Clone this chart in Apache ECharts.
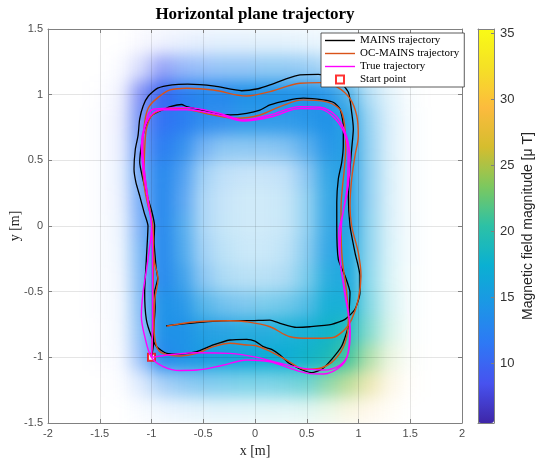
<!DOCTYPE html>
<html>
<head>
<meta charset="utf-8">
<script src="https://cdn.jsdelivr.net/npm/echarts@6/dist/echarts.min.js"></script>
<style>
  html, body { margin: 0; padding: 0; background: #fff; }
  #wrap { position: relative; width: 543px; height: 466px; }
  #bgClip { position: absolute; left: 0; top: 0; width: 543px; height: 466px; clip-path: inset(29px 81px 43px 48px); }
  #bg { position: absolute; left: 0; top: 0; width: 543px; height: 466px; filter: blur(8px); }
  #main { position: absolute; left: 0; top: 0; width: 543px; height: 466px; }
</style>
</head>
<body>
<div id="wrap">
  <div id="bgClip"><div id="bg"></div></div>
  <div id="main"></div>
</div>
<script>
// field map cells (0.2 m), columns left -> right, rows top (y=1.4) -> bottom (y=-1.4)
const fieldX = [-1.9, -1.7, -1.5, -1.3, -1.1, -0.9, -0.7, -0.5, -0.3, -0.1, 0.1, 0.3, 0.5, 0.7, 0.9, 1.1, 1.3, 1.5, 1.7, 1.9];
const fieldY = [1.4, 1.2, 1.0, 0.8, 0.6, 0.4, 0.2, 0.0, -0.2, -0.4, -0.6, -0.8, -1.0, -1.2, -1.4];

// magnitude [uT]
const fieldMag = [
  [ 9, 9, 9, 9, 9,10,11,12,13,13,14,14,14,15,15,15,16,16,16,16],
  [ 9, 9, 9, 9, 9, 9,11,12,13,13,14,14,14,14,15,15,15,16,16,16],
  [ 9, 9, 9, 9, 9,10,12,13,13,14,14,14,14,14,15,15,15,16,16,16],
  [ 9, 9, 9, 9,10,11,12,13,13,14,14,14,14,14,15,15,15,16,16,16],
  [10,10,10,10,11,12,13,13,14,14,14,14,14,14,15,15,15,16,16,16],
  [11,11,11,11,12,13,13,14,14,14,14,14,14,15,15,15,16,16,16,16],
  [11,11,11,11,12,13,13,14,14,15,15,15,15,15,15,15,16,16,16,16],
  [12,12,12,12,12,13,14,14,15,15,15,15,15,15,15,16,16,17,17,17],
  [12,12,12,12,13,13,14,14,15,15,15,15,15,15,16,16,17,17,17,17],
  [12,12,12,12,13,13,14,14,15,15,15,15,16,16,16,17,18,18,18,18],
  [12,12,12,12,13,14,14,15,15,15,16,16,16,17,17,18,19,19,19,19],
  [12,12,12,12,13,14,14,15,15,16,16,17,17,18,19,20,21,21,21,21],
  [11,11,11,11,12,13,14,15,16,16,17,17,18,19,21,23,24,24,24,24],
  [11,11,11,11,12,13,14,15,16,17,17,18,19,22,24,26,28,28,28,28],
  [11,11,11,11,12,13,14,15,16,17,18,19,20,23,26,29,30,30,30,30]
];

// map confidence (drawn as opacity)
const fieldAlpha = [
  [0,0,0,   0,   0.04,0.08,0.10,0.12,0.12,0.12,0.12,0.12,0.10,0.08,0.05,0.02,0,   0,   0,0],
  [0,0,0,   0.03,0.22,0.55,0.50,0.48,0.48,0.48,0.48,0.48,0.45,0.35,0.18,0.06,0.02,0,   0,0],
  [0,0,0.01,0.08,0.65,1.00,1.00,1.00,1.00,1.00,1.00,1.00,1.00,0.95,0.75,0.32,0.12,0.02,0,0],
  [0,0,0.02,0.10,0.70,1.00,1.00,0.95,0.92,0.92,0.92,0.92,0.95,1.00,0.92,0.42,0.15,0.03,0,0],
  [0,0,0.02,0.10,0.70,1.00,0.92,0.62,0.50,0.50,0.50,0.55,0.72,0.95,0.95,0.45,0.15,0.03,0,0],
  [0,0,0.02,0.10,0.68,1.00,0.80,0.40,0.28,0.24,0.24,0.28,0.50,0.88,0.95,0.45,0.15,0.03,0,0],
  [0,0,0.02,0.09,0.64,1.00,0.75,0.35,0.24,0.20,0.20,0.24,0.45,0.85,0.95,0.45,0.15,0.03,0,0],
  [0,0,0.02,0.08,0.60,1.00,0.75,0.35,0.24,0.20,0.20,0.24,0.45,0.85,0.95,0.45,0.15,0.03,0,0],
  [0,0,0.02,0.07,0.58,1.00,0.78,0.40,0.28,0.22,0.22,0.28,0.50,0.88,0.95,0.45,0.15,0.03,0,0],
  [0,0,0.02,0.06,0.56,1.00,0.85,0.50,0.35,0.30,0.30,0.35,0.55,0.90,0.95,0.45,0.15,0.03,0,0],
  [0,0,0.02,0.05,0.54,1.00,0.95,0.72,0.60,0.55,0.55,0.60,0.72,0.95,0.95,0.50,0.18,0.03,0,0],
  [0,0,0.01,0.05,0.50,1.00,1.00,0.95,0.92,0.90,0.90,0.92,0.95,1.00,0.95,0.55,0.20,0.03,0,0],
  [0,0,0.01,0.04,0.45,1.00,1.00,1.00,1.00,1.00,1.00,1.00,1.00,1.00,0.95,0.55,0.18,0.03,0,0],
  [0,0,0,   0.02,0.16,0.38,0.48,0.52,0.52,0.52,0.52,0.56,0.62,0.65,0.58,0.36,0.12,0.02,0,0],
  [0,0,0,   0,   0.03,0.08,0.10,0.12,0.12,0.12,0.12,0.12,0.14,0.15,0.14,0.10,0.04,0,   0,0]
];

// MAINS estimate (two laps)
const mainsX = [-1.00,-0.98,-0.976,-0.965,-0.969,-0.94,-0.955,-0.963,-0.975,-0.97,-1.00,-1.05,-1.09,-1.114,-1.098,-1.066,-1.002,-0.873,-0.82,-0.71,-0.66,-0.53,-0.403,-0.242,-0.08,0.048,0.145,0.306,0.467,0.66,0.76,0.821,0.853,0.853,0.838,0.805,0.79,0.79,0.805,0.87,0.918,0.91,0.902,0.838,0.741,0.645,0.548,0.483,0.40,0.322,0.242,0.161,0.08,0.0,-0.08,-0.242,-0.403,-0.563,-0.725,-0.853,-0.95,-1.002,-1.05,-1.066,-1.05,-1.034,
  -1.07,-1.114,-1.15,-1.169,-1.156,-1.13,-1.114,-1.08,-1.03,-0.94,-0.80,-0.65,-0.39,-0.13,0.03,0.145,0.30,0.435,0.612,0.79,0.902,0.934,0.95,0.934,0.918,0.902,0.918,0.966,1.014,1.014,0.966,0.87,0.741,0.53,0.403,0.242,0.145,-0.08,-0.242,-0.563,-0.86];
const mainsY = [-1.00,-0.90,-0.76,-0.62,-0.50,-0.40,-0.32,-0.25,-0.12,0.00,0.12,0.25,0.38,0.485,0.612,0.739,0.84,0.891,0.909,0.925,0.909,0.885,0.858,0.846,0.858,0.883,0.922,0.955,0.973,0.96,0.94,0.891,0.764,0.612,0.485,0.358,0.18,0.0,-0.254,-0.381,-0.508,-0.64,-0.762,-0.914,-1.015,-1.091,-1.117,-1.104,-1.075,-1.041,-0.982,-0.939,-0.919,-0.876,-0.863,-0.868,-0.906,-0.957,-0.975,-0.97,-0.919,-0.838,-0.711,-0.508,-0.254,0.0,
  0.10,0.23,0.33,0.434,0.586,0.688,0.815,0.916,0.99,1.05,1.075,1.08,1.065,1.03,1.045,1.074,1.12,1.15,1.155,1.12,1.018,0.866,0.739,0.586,0.434,0.231,0.0,-0.203,-0.381,-0.508,-0.634,-0.711,-0.749,-0.767,-0.772,-0.741,-0.716,-0.721,-0.721,-0.736,-0.76];

// OC-MAINS estimate
const ocX = [-1.00,-0.99,-0.985,-0.98,-0.99,-1.02,-1.05,-1.07,-1.065,-1.046,-0.99,-0.82,-0.66,-0.403,-0.177,0.048,0.242,0.467,0.693,0.79,0.838,0.87,0.876,0.863,0.843,0.831,0.831,0.843,0.886,0.902,0.87,0.773,0.645,0.483,0.322,0.161,0.0,-0.08,-0.242,-0.403,-0.563,-0.725,-0.886,-0.95,-0.976,-0.969,-0.937,-0.976,-0.986,
  -1.034,-1.066,-1.082,-1.082,-1.066,-1.03,-0.95,-0.82,-0.66,-0.403,-0.08,0.145,0.435,0.628,0.79,0.918,0.983,0.998,0.966,0.934,0.918,0.934,0.998,1.024,0.998,0.934,0.87,0.741,0.531,0.338,0.145,-0.08,-0.242,-0.563,-0.853];
const ocY = [-1.00,-0.80,-0.50,-0.25,0.00,0.15,0.30,0.45,0.60,0.75,0.845,0.896,0.889,0.845,0.82,0.845,0.909,0.96,0.945,0.91,0.866,0.739,0.586,0.434,0.282,0.13,0.0,-0.254,-0.508,-0.711,-0.889,-1.015,-1.079,-1.092,-1.028,-0.96,-0.91,-0.906,-0.893,-0.919,-0.97,-0.99,-0.97,-0.919,-0.762,-0.558,-0.406,-0.254,0.0,
  0.155,0.282,0.434,0.637,0.79,0.90,0.97,1.036,1.049,1.036,0.99,1.023,1.087,1.092,1.06,0.97,0.84,0.688,0.535,0.358,0.155,0.0,-0.203,-0.381,-0.558,-0.711,-0.787,-0.851,-0.855,-0.843,-0.767,-0.729,-0.721,-0.729,-0.762];

// true trajectory
const trueX = [-1.00,-0.99,-0.99,-0.99,-1.00,-1.03,-1.07,-1.085,-1.06,-0.99,-0.88,-0.66,-0.34,-0.11,0.15,0.44,0.63,0.77,0.87,0.90,0.89,0.85,0.81,0.82,0.87,0.915,0.90,0.84,0.66,0.50,0.34,0.145,-0.08,-0.31,-0.56,-0.725,-0.886,-1.00,
  -1.066,-1.098,-1.082,-1.034,-1.00,-1.034,-1.082,-1.098,-1.066,-0.983,-0.66,-0.338,-0.113,0.145,0.435,0.628,0.79,0.886,0.918,0.90,0.84,0.82,0.86,0.92,0.90,0.82,0.66,0.47,0.24,0.02,-0.24,-0.56,-1.00];
const trueY = [-1.00,-0.76,-0.50,-0.25,0.00,0.18,0.43,0.61,0.76,0.855,0.885,0.885,0.845,0.80,0.83,0.895,0.89,0.82,0.69,0.52,0.30,0.10,-0.05,-0.254,-0.508,-0.762,-0.965,-1.06,-1.127,-1.12,-1.084,-1.034,-1.02,-1.06,-1.097,-1.10,-1.07,-1.00,
  -0.838,-0.685,-0.508,-0.254,0.00,0.18,0.434,0.612,0.764,0.889,0.901,0.858,0.807,0.845,0.909,0.904,0.832,0.68,0.503,0.30,0.05,-0.20,-0.48,-0.80,-0.97,-1.06,-1.097,-1.084,-1.045,-1.00,-0.97,-0.965,-1.00];

const startX = [-1.0];
const startY = [-1.0];

const cbarTicks = [10, 15, 20, 25, 30, 35];
const cbarMin = 5.5;
const cbarMax = 35.3;

const parula = ['#3E26A8', '#4752EF', '#2E78F5', '#1C96E6', '#0AB0D2', '#2CC1A6',
  '#7CC85F', '#D5BD2E', '#FCBB3D', '#F5E026', '#F9FB15'];

const zip = (xs, ys) => xs.map((x, i) => [x, ys[i]]);

const AXIS_GRAY = '#808080';
const PLOT = { left: 48, right: 81, top: 29, bottom: 43, outerBoundsMode: 'none' };
const LINE_ICON = 'path://M0,0H30V1.4H0Z';
const SQUARE_ICON = 'path://M0,0H8V8H0Z';

// ---- background field map (blurred layer) ----
const cells = [];
fieldMag.forEach((row, r) => {
  row.forEach((v, c) => {
    cells.push([c, fieldY.length - 1 - r, v, fieldAlpha[r][c]]);
  });
});

const bg = echarts.init(document.getElementById('bg'), null, { renderer: 'canvas' });
bg.setOption({
  animation: false,
  grid: { ...PLOT, show: false },
  xAxis: { type: 'category', data: fieldX, show: false },
  yAxis: { type: 'category', data: fieldY.slice().reverse(), show: false },
  visualMap: [
    { type: 'continuous', show: false, seriesIndex: 0, dimension: 2, min: cbarMin, max: cbarMax, inRange: { color: parula } },
    { type: 'continuous', show: false, seriesIndex: 0, dimension: 3, min: 0, max: 1, inRange: { opacity: [0, 1] } },
  ],
  series: [{ type: 'heatmap', data: cells, progressive: 0, emphasis: { disabled: true } }],
});

// ---- main chart ----
const chart = echarts.init(document.getElementById('main'), null, { renderer: 'canvas' });

const tickLabel = { fontFamily: 'Liberation Sans', fontSize: 11, color: '#4d4d4d' };
const nameStyle = { fontFamily: 'Liberation Serif', fontSize: 14, color: '#262626' };

chart.setOption({
  animation: false,
  graphic: [{
    type: 'text', x: 255, y: 15,
    style: { text: 'Horizontal plane trajectory', font: 'bold 17px "Liberation Serif"', fill: '#000', align: 'center', verticalAlign: 'middle' },
  }],
  grid: [
    { ...PLOT, show: false },
    { left: 478, width: 16, top: 29, height: 394, show: false, outerBoundsMode: 'none' },
  ],
  legend: {
    orient: 'vertical', left: 321, top: 33,
    backgroundColor: '#fff', borderColor: '#333', borderWidth: 0.8,
    padding: [2, 5, 2, 4],
    itemWidth: 30, itemHeight: 8, itemGap: 2,
    selectedMode: false,
    textStyle: { fontFamily: 'Liberation Serif', fontSize: 11, lineHeight: 10, color: '#000' },
    data: [
      { name: 'MAINS trajectory', icon: LINE_ICON },
      { name: 'OC-MAINS trajectory', icon: LINE_ICON },
      { name: 'True trajectory', icon: LINE_ICON },
      { name: 'Start point', icon: SQUARE_ICON },
    ],
  },
  visualMap: {
    type: 'continuous', seriesIndex: [], min: cbarMin, max: cbarMax,
    left: 473, top: 24, padding: 5, itemWidth: 16, itemHeight: 394,
    calculable: false, hoverLink: false, z: 1,
    inRange: { color: parula },
  },
  xAxis: [
    {
      gridIndex: 0, type: 'value', min: -2, max: 2, interval: 0.5,
      name: 'x [m]', nameLocation: 'middle', nameGap: 21, nameMoveOverlap: false, nameTextStyle: nameStyle,
      axisLine: { onZero: false, lineStyle: { color: AXIS_GRAY } },
      axisTick: { inside: true, length: 4, lineStyle: { color: AXIS_GRAY } },
      axisLabel: { ...tickLabel, margin: 5 },
      splitLine: { show: true, lineStyle: { color: 'rgba(0,0,0,0.1)' } },
    },
    {
      gridIndex: 0, type: 'value', position: 'top', min: -2, max: 2, interval: 0.5,
      axisLine: { onZero: false, lineStyle: { color: AXIS_GRAY } },
      axisTick: { inside: true, length: 4, lineStyle: { color: AXIS_GRAY } },
      axisLabel: { show: false }, splitLine: { show: false },
    },
    {
      gridIndex: 1, type: 'value', min: 0, max: 1, z: 10,
      axisLine: { onZero: false, lineStyle: { color: AXIS_GRAY } },
      axisTick: { show: false }, axisLabel: { show: false }, splitLine: { show: false },
    },
    {
      gridIndex: 1, type: 'value', position: 'top', min: 0, max: 1, z: 10,
      axisLine: { onZero: false, lineStyle: { color: AXIS_GRAY } },
      axisTick: { show: false }, axisLabel: { show: false }, splitLine: { show: false },
    },
  ],
  yAxis: [
    {
      gridIndex: 0, type: 'value', min: -1.5, max: 1.5, interval: 0.5,
      name: 'y [m]', nameLocation: 'middle', nameGap: 26, nameMoveOverlap: false, nameTextStyle: nameStyle,
      axisLine: { show: true, onZero: false, lineStyle: { color: AXIS_GRAY } },
      axisTick: { show: true, inside: true, length: 4, lineStyle: { color: AXIS_GRAY } },
      axisLabel: { ...tickLabel, margin: 5 },
      splitLine: { show: true, lineStyle: { color: 'rgba(0,0,0,0.1)' } },
    },
    {
      gridIndex: 0, type: 'value', position: 'right', min: -1.5, max: 1.5, interval: 0.5,
      axisLine: { show: true, onZero: false, lineStyle: { color: AXIS_GRAY } },
      axisTick: { show: true, inside: true, length: 4, lineStyle: { color: AXIS_GRAY } },
      axisLabel: { show: false }, splitLine: { show: false },
    },
    {
      gridIndex: 1, type: 'value', position: 'right', min: cbarMin, max: cbarMax, z: 10,
      name: 'Magnetic field magnitude [μ T]', nameLocation: 'middle', nameRotate: 90, nameGap: 27,
      nameTextStyle: { fontFamily: 'Liberation Sans', fontSize: 14, color: '#262626' },
      axisLine: { show: true, onZero: false, lineStyle: { color: AXIS_GRAY } },
      axisTick: { show: true, inside: true, length: 3, customValues: cbarTicks, lineStyle: { color: AXIS_GRAY } },
      axisLabel: { fontFamily: 'Liberation Sans', fontSize: 13, color: '#333', margin: 6, customValues: cbarTicks },
      splitLine: { show: false },
    },
    {
      gridIndex: 1, type: 'value', position: 'left', min: cbarMin, max: cbarMax, z: 10,
      axisLine: { show: true, onZero: false, lineStyle: { color: AXIS_GRAY } },
      axisTick: { show: false }, axisLabel: { show: false }, splitLine: { show: false },
    },
  ],
  series: [
    {
      name: 'MAINS trajectory', type: 'line', data: zip(mainsX, mainsY),
      symbol: 'none', smooth: 0.2, lineStyle: { color: '#000', width: 1.3 }, itemStyle: { color: '#000' },
    },
    {
      name: 'OC-MAINS trajectory', type: 'line', data: zip(ocX, ocY),
      symbol: 'none', smooth: 0.35, lineStyle: { color: '#D95319', width: 1.4 }, itemStyle: { color: '#D95319' },
    },
    {
      name: 'True trajectory', type: 'line', data: zip(trueX, trueY),
      symbol: 'none', smooth: 0.35, lineStyle: { color: '#FF00FF', width: 1.4 }, itemStyle: { color: '#FF00FF' },
    },
    {
      name: 'Start point', type: 'scatter', data: zip(startX, startY),
      symbol: 'rect', symbolSize: 7,
      itemStyle: { color: '#fff', borderColor: '#FF0000', borderWidth: 2 },
    },
  ],
});
</script>
</body>
</html>
